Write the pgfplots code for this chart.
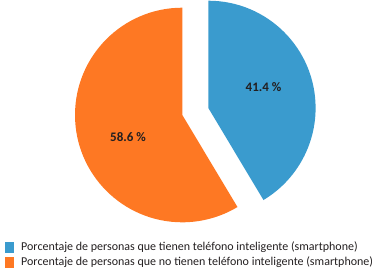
\documentclass[border=0pt]{standalone}
\usepackage{pgfplots}
\pgfplotsset{compat=1.18}
\usepackage{pgfplotstable}
\usepackage{fontspec}
\setmainfont{Carlito}
\definecolor{cblue}{HTML}{3A9BCE}
\definecolor{corange}{HTML}{FE7823}
\definecolor{ctext}{HTML}{231F20}
\pgfplotstableread{
label value
si 41.4
no 58.6
}\piedata
\pgfplotstablegetelem{0}{value}\of\piedata\let\vsi\pgfplotsretval
\pgfplotstablegetelem{1}{value}\of\piedata\let\vno\pgfplotsretval
\pgfplotsset{sqlegend/.style={legend image code/.code={\fill[##1] (0pt,-5.4pt) rectangle (7.6pt,5.4pt);}}}
\begin{document}
\begin{tikzpicture}
\begin{axis}[
  width=377pt, height=279pt, scale only axis,
  xmin=0, xmax=377, ymin=0, ymax=279,
  hide axis, clip=false,
  legend style={at={(axis cs:5,37.5)}, anchor=north west, draw=none, fill=none,
    inner sep=0pt, outer sep=0pt, font=\fontsize{12}{13}\selectfont, text=ctext,
    row sep=3.8pt,
    nodes={inner sep=0pt},
    /tikz/every odd column/.append style={column sep=8.2pt}},
  legend cell align=left,
]
\path (axis cs:0,0) rectangle (axis cs:377,279);
% blue slice (exploded)
\fill[cblue] (axis cs:208.3,171) -- ++(90:107.3pt) arc[start angle=90, end angle={90-\vsi*3.6}, radius=107.3pt] -- cycle;
% orange slice
\fill[corange] (axis cs:182.3,164) -- ++(90:107.3pt) arc[start angle=90, end angle={90+\vno*3.6}, radius=107.3pt] -- cycle;
\addlegendimage{sqlegend, cblue}
\addlegendentry{Porcentaje de personas que tienen teléfono inteligente (smartphone)}
\addlegendimage{sqlegend, corange}
\addlegendentry{Porcentaje de personas que no tienen teléfono inteligente (smartphone)}
\node[font=\bfseries\fontsize{13}{14}\selectfont, text=ctext] at (axis cs:263.5,192) {41.4 \%};
\node[font=\bfseries\fontsize{13}{14}\selectfont, text=ctext] at (axis cs:128,142) {58.6 \%};
\end{axis}
\end{tikzpicture}
\end{document}
